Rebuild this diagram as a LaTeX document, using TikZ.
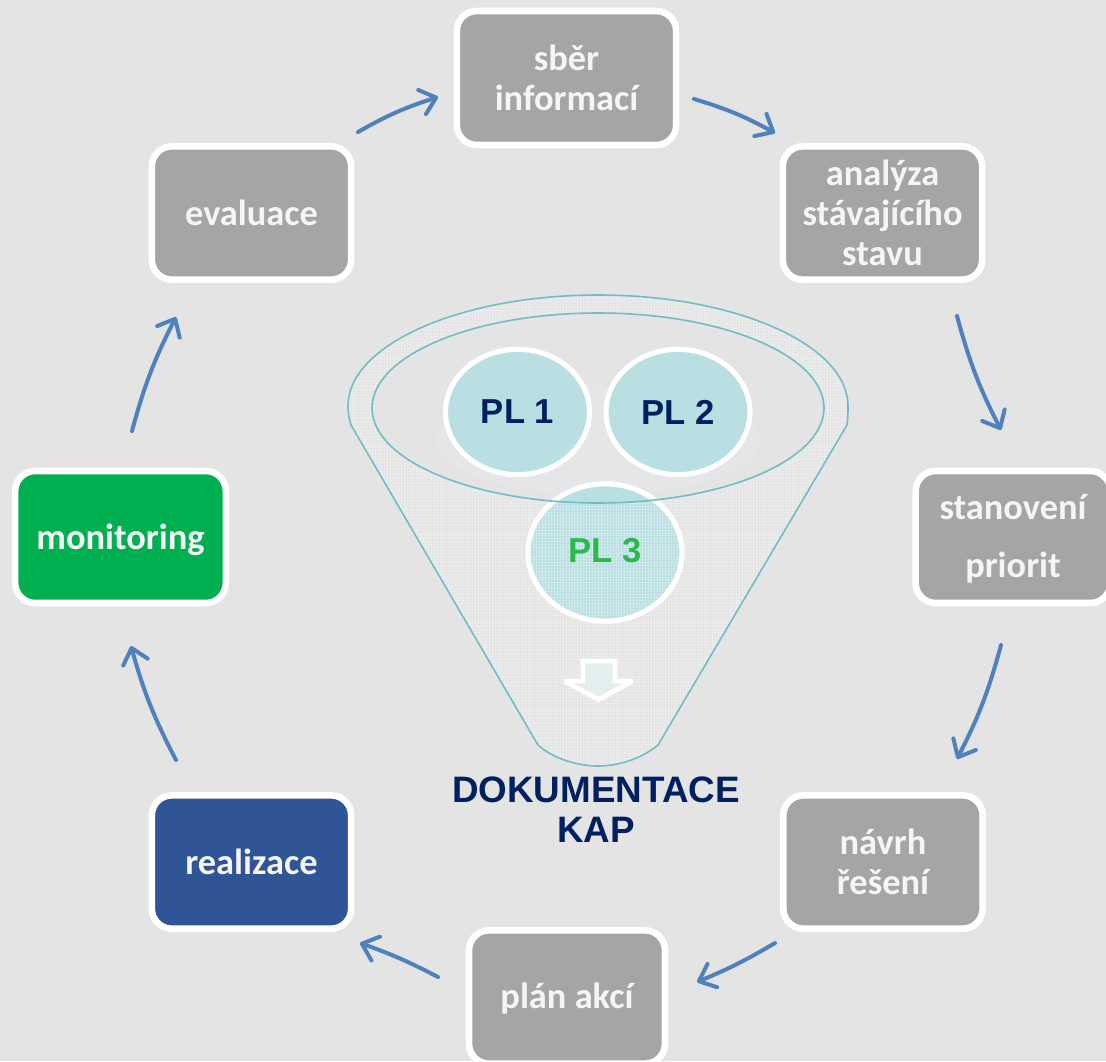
\documentclass[tikz,border=0pt]{standalone}
\usepackage{fontspec}
\setmainfont{Liberation Sans}
\newfontfamily\boxfont{Carlito}
\usetikzlibrary{arrows.meta,patterns.meta,shapes.geometric}
\definecolor{bgc}{HTML}{E4E4E4}
\definecolor{boxgrey}{HTML}{A5A5A5}
\definecolor{boxblue}{HTML}{2F5597}
\definecolor{boxgreen}{HTML}{00B050}
\definecolor{arrowblue}{HTML}{4F81BD}
\definecolor{funnelline}{HTML}{72BCC4}
\definecolor{circfill}{HTML}{B9DFE2}
\definecolor{navy}{HTML}{002060}
\definecolor{plgreen}{HTML}{2DB84C}
\tikzset{
  stepbox/.style={draw=white,line width=4.9pt,rounded corners=15pt,fill=boxgrey,text=white!96!black,
    font=\boxfont\bfseries\fontsize{27.3}{30}\selectfont,align=center,inner sep=0pt,anchor=center},
  conn/.style={draw=arrowblue,line width=3pt,line cap=round,line join=round,
    -{Straight Barb[length=11pt,width=19pt,line width=3pt,round]}},
  plcircle/.style={shape=ellipse,draw=white,line width=3.8pt,fill=circfill,inner sep=0pt},
  pltext/.style={font=\bfseries\fontsize{26}{30}\selectfont},
  funnelrim/.style={draw=funnelline,line width=1.2pt},
}
\begin{document}
\begin{tikzpicture}[x=0.75pt,y=-0.75pt]
\useasboundingbox (0,0) rectangle (1106,1061);
\fill[bgc] (0,0) rectangle (1106,1061);
% boxes
\node[stepbox,minimum width=164.5pt,minimum height=100.5pt] (sber) at (566.5,78) {sběr\\informací};
\node[stepbox,minimum width=149.5pt,minimum height=100pt] (analyza) at (882.5,213) {analýza\\stávajícího\\stavu};
\node[stepbox,minimum width=146pt,minimum height=99pt,text depth=1pt] (stanoveni) at (1013,537) {stanovení\\[13.5pt]priorit};
\node[stepbox,minimum width=149.5pt,minimum height=100pt] (navrh) at (883,862) {návrh\\řešení};
\node[stepbox,minimum width=147pt,minimum height=100pt,text depth=2.5pt] (plan) at (567,997) {plán akcí};
\node[stepbox,fill=boxblue,minimum width=149.5pt,minimum height=100pt] (realizace) at (251.5,862) {realizace};
\node[stepbox,fill=boxgreen,minimum width=158pt,minimum height=99pt,text depth=1pt] (monitoring) at (120.5,537) {monitoring};
\node[stepbox,minimum width=149.5pt,minimum height=100pt] (evaluace) at (251.5,213) {evaluace};
% connectors
\draw[conn] ([shift={(127.5,21)}]sber.center) to[bend left=6] ([shift={(-107.5,-80)}]analyza.center);
\draw[conn] ([shift={(74.5,103)}]analyza.center) to[bend right=6] ([shift={(-12,-107)}]stanoveni.center);
\draw[conn] ([shift={(-12,108)}]stanoveni.center) to[bend left=6] ([shift={(74,-103)}]navrh.center);
\draw[conn] ([shift={(-108,81)}]navrh.center) to[bend left=4] ([shift={(130,-15)}]plan.center);
\draw[conn] ([shift={(-129,-20)}]plan.center) to[bend left=-4] ([shift={(108.5,81)}]realizace.center);
\draw[conn] ([shift={(-75.5,-102)}]realizace.center) to[bend left=6] ([shift={(10.5,109)}]monitoring.center);
\draw[conn] ([shift={(11.5,-106)}]monitoring.center) to[bend left=6] ([shift={(-75.5,104)}]evaluace.center);
\draw[conn] ([shift={(106.5,-81)}]evaluace.center) to[bend left=6] ([shift={(-128.5,19)}]sber.center);
% funnel
\fill[circfill!35!white,opacity=.18] (598,440) ellipse [x radius=162, y radius=55];
\node[plcircle,minimum width=115.5pt,minimum height=103pt] (pl3) at (605,552.5) {};
\def\funnelpath{(351,425) -- (538,745) .. controls (555,760) and (580,766) .. (598,766) .. controls (616,766) and (640,760) .. (658,745) -- (847,425) .. controls (848,419) and (848,412) .. (848,406) .. controls (848,345) and (736,295) .. (598,295) .. controls (460,295) and (348,345) .. (348,406) .. controls (348,412) and (349,419) .. (351,425) -- cycle (598,408) ellipse [x radius=226, y radius=95]}
\path[even odd rule,pattern={Lines[angle=0,distance=2.2pt,line width=.7pt]},pattern color=white,opacity=.26] \funnelpath;
\path[even odd rule,pattern={Lines[angle=90,distance=2.2pt,line width=.7pt]},pattern color=white,opacity=.26] \funnelpath;
\path[funnelrim] \funnelpath;
\node[pltext,text=plgreen] (pl3t) at (605,551) {PL 3};
\node[plcircle,pltext,minimum width=108pt,minimum height=94pt,text=navy] (pl1) at (517.5,412) {PL 1};
\node[plcircle,pltext,minimum width=108pt,minimum height=94pt,text=navy] (pl2) at (678,412) {PL 2};
% block arrow
\draw[white,line width=3.6pt,fill=circfill!40!white!70!bgc,miter limit=4] (583,661) -- (615,661) -- (615,681) -- (632.5,681) -- (598.5,699.5) -- (564.5,681) -- (583,681) -- cycle;
% title
\node[font=\bfseries\fontsize{27.6}{30}\selectfont,text=navy,align=center,inner sep=0pt] (doc) at (596,810) {DOKUMENTACE\\KAP};
\end{tikzpicture}
\end{document}
